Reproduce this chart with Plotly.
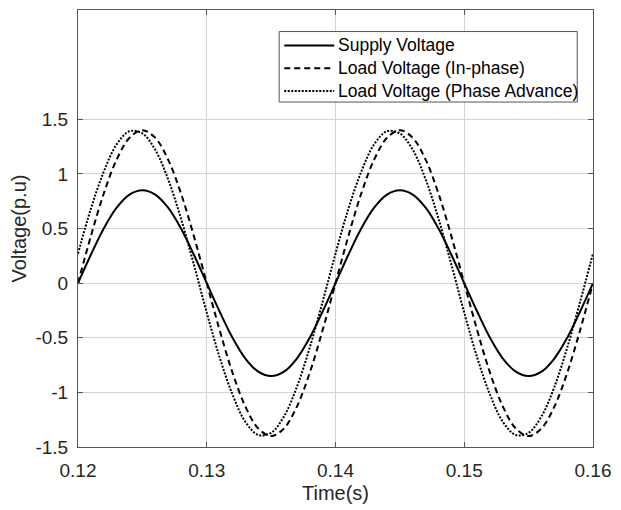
import plotly.graph_objects as go

# Time samples (s), 1 ms steps
time_s = [0.120, 0.121, 0.122, 0.123, 0.124, 0.125, 0.126, 0.127, 0.128, 0.129,
          0.130, 0.131, 0.132, 0.133, 0.134, 0.135, 0.136, 0.137, 0.138, 0.139,
          0.140, 0.141, 0.142, 0.143, 0.144, 0.145, 0.146, 0.147, 0.148, 0.149,
          0.150, 0.151, 0.152, 0.153, 0.154, 0.155, 0.156, 0.157, 0.158, 0.159,
          0.160]

supply_voltage = [0.00, 0.26, 0.50, 0.69, 0.81, 0.85, 0.81, 0.69, 0.50, 0.26,
                  0.00, -0.26, -0.50, -0.69, -0.81, -0.85, -0.81, -0.69, -0.50, -0.26,
                  0.00, 0.26, 0.50, 0.69, 0.81, 0.85, 0.81, 0.69, 0.50, 0.26,
                  0.00, -0.26, -0.50, -0.69, -0.81, -0.85, -0.81, -0.69, -0.50, -0.26,
                  0.00]

load_in_phase = [0.00, 0.43, 0.82, 1.13, 1.33, 1.40, 1.33, 1.13, 0.82, 0.43,
                 0.00, -0.43, -0.82, -1.13, -1.33, -1.40, -1.33, -1.13, -0.82, -0.43,
                 0.00, 0.43, 0.82, 1.13, 1.33, 1.40, 1.33, 1.13, 0.82, 0.43,
                 0.00, -0.43, -0.82, -1.13, -1.33, -1.40, -1.33, -1.13, -0.82, -0.43,
                 0.00]

load_phase_advance = [0.27, 0.68, 1.02, 1.27, 1.39, 1.37, 1.22, 0.95, 0.59, 0.17,
                      -0.27, -0.68, -1.02, -1.27, -1.39, -1.37, -1.22, -0.95, -0.59, -0.17,
                      0.27, 0.68, 1.02, 1.27, 1.39, 1.37, 1.22, 0.95, 0.59, 0.17,
                      -0.27, -0.68, -1.02, -1.27, -1.39, -1.37, -1.22, -0.95, -0.59, -0.17,
                      0.27]

series_names = ["Supply Voltage", "Load Voltage (In-phase)", "Load Voltage (Phase Advance)"]

x_ticks = [0.12, 0.13, 0.14, 0.15, 0.16]
x_tick_labels = ["0.12", "0.13", "0.14", "0.15", "0.16"]
y_ticks = [-1.5, -1, -0.5, 0, 0.5, 1, 1.5]
y_tick_labels = ["-1.5", "-1", "-0.5", "0", "0.5", "1", "1.5"]

line_styles = [dict(color="black", width=2, dash="solid"),
               dict(color="black", width=2, dash="6px,4px"),
               dict(color="black", width=2, dash="2px,1.5px")]

fig = go.Figure()
for name, ys, ls in zip(series_names,
                        [supply_voltage, load_in_phase, load_phase_advance],
                        line_styles):
    fig.add_trace(go.Scatter(x=time_s, y=ys, mode="lines", name=name,
                             line=dict(shape="spline", **ls), showlegend=False))

axis_common = dict(showline=True, linecolor="#555555", linewidth=1, mirror="ticks",
                   ticks="inside", ticklen=5, tickcolor="#555555",
                   showgrid=True, gridcolor="#d4d4d4", gridwidth=1,
                   zeroline=False, tickfont=dict(size=19, color="#262626"))

# Legend drawn as a boxed key in paper coordinates
box_x0, box_x1, box_y0, box_y1 = 0.3906, 0.9694, 0.7894, 0.9507
row_y = [0.9189, 0.8666, 0.8144]
sample_x0, sample_x1, text_x = 0.4005, 0.4976, 0.5014

shapes = [dict(type="rect", xref="paper", yref="paper",
               x0=box_x0, x1=box_x1, y0=box_y0, y1=box_y1,
               line=dict(color="#555555", width=1), fillcolor="white", layer="above")]
annotations = []
for name, ls, ry in zip(series_names, line_styles, row_y):
    shapes.append(dict(type="line", xref="paper", yref="paper",
                       x0=sample_x0, x1=sample_x1, y0=ry, y1=ry,
                       line=ls, layer="above"))
    annotations.append(dict(xref="paper", yref="paper", x=text_x, y=ry,
                            xanchor="left", yanchor="middle", text=name,
                            showarrow=False, font=dict(size=17.5, color="black")))

fig.update_layout(
    width=621, height=510,
    margin=dict(l=77.5, r=20, t=9.3, b=60.5),
    paper_bgcolor="white", plot_bgcolor="white",
    font=dict(family="Liberation Sans, Arial, sans-serif", color="#262626"),
    xaxis=dict(range=[0.12, 0.16], tickvals=x_ticks, ticktext=x_tick_labels,
               ticklabelstandoff=6,
               title=dict(text="Time(s)", font=dict(size=20), standoff=6), **axis_common),
    yaxis=dict(range=[-1.5, 2.5], tickvals=y_ticks, ticktext=y_tick_labels,
               ticklabelstandoff=5,
               title=dict(text="Voltage(p.u)", font=dict(size=20), standoff=3), **axis_common),
    shapes=shapes,
    annotations=annotations,
    showlegend=False,
)

fig.write_html("out.html", config={"displayModeBar": False},
               post_script="document.body.style.margin='0';document.body.style.overflow='hidden';")
